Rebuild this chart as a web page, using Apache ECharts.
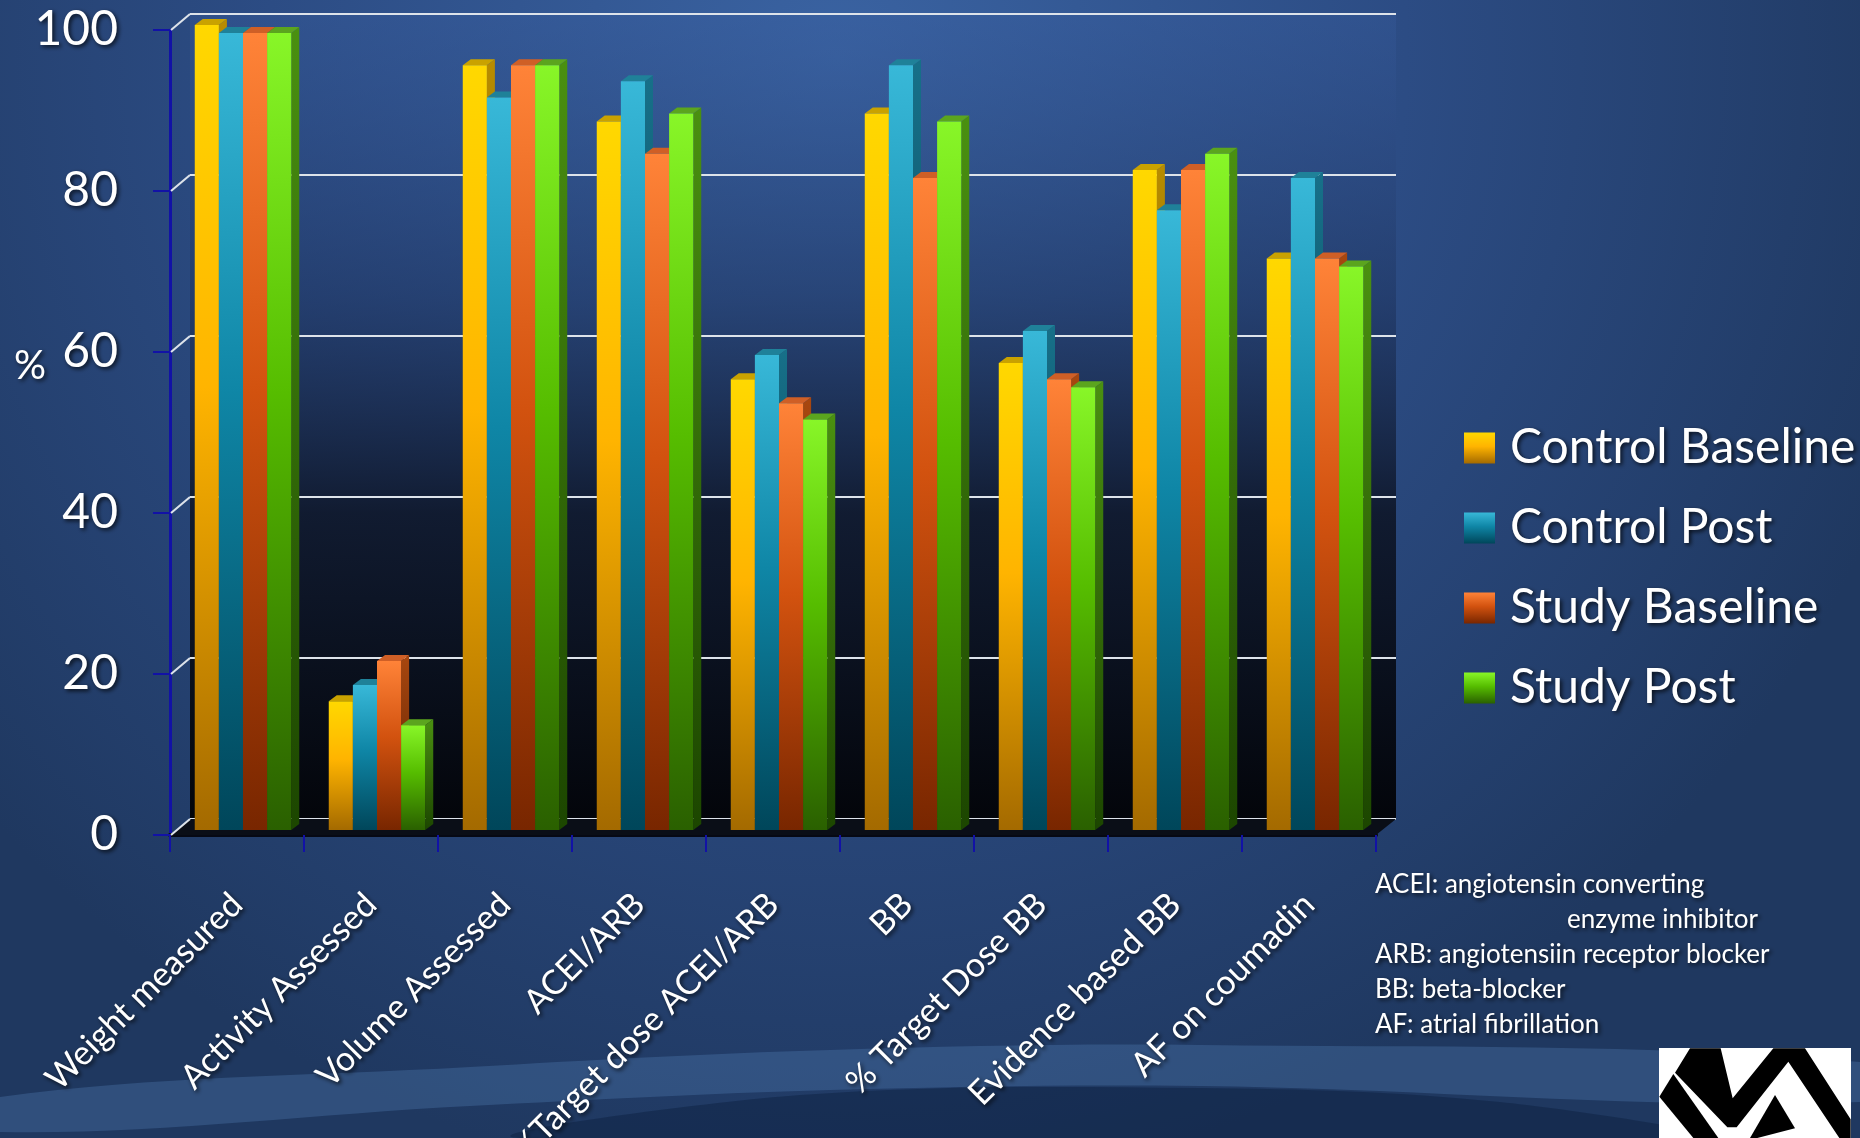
<!DOCTYPE html>
<html>
<head>
<meta charset="utf-8">
<title>Heart failure care measures</title>
<script src="https://cdn.jsdelivr.net/npm/echarts@6/dist/echarts.min.js"></script>
<style>
  html, body { margin: 0; padding: 0; background: #24416b; }
  #main { width: 1860px; height: 1138px; }
</style>
</head>
<body>
<div id="main"></div>
<script>
// data
var categories = ['Weight measured', 'Activity Assessed', 'Volume Assessed', 'ACEI/ARB',
  '%Target dose ACEI/ARB', 'BB', '% Target Dose BB', 'Evidence based BB', 'AF on coumadin'];
var seriesNames = ['Control Baseline', 'Control Post', 'Study Baseline', 'Study Post'];
var controlBaseline = [100, 16, 95, 88, 56, 89, 58, 82, 71];
var controlPost     = [99, 18, 91, 93, 59, 95, 62, 77, 81];
var studyBaseline   = [99, 21, 95, 84, 53, 81, 56, 82, 71];
var studyPost       = [99, 13, 95, 89, 51, 88, 55, 84, 70];
var yTicks = [0, 20, 40, 60, 80, 100];
var notes = ['ACEI: angiotensin converting', 'enzyme inhibitor', 'ARB: angiotensiin receptor blocker',
  'BB: beta-blocker', 'AF: atrial fibrillation'];

var FONT = 'Lato, "Open Sans", sans-serif';
var GRID = { left: 170, top: 30, width: 1206, height: 805 };
var WALL = { dx: 20, dy: 16 };     // back wall offset
var DEPTH = { dx: 8, dy: 6 };      // bar depth
var LIFT = { dx: 6, dy: 5 };       // bars sit a bit behind the front plane
var BAR_RATIO = 0.18;

var LG = echarts.graphic.LinearGradient;
var palettes = [
  { front: ['#ffd800', '#ffb400', '#a46a00'], cap: '#c9a200', side: ['#b88c00', '#5e4000'] },
  { front: ['#38b8d8', '#0f86a6', '#00465a'], cap: '#1f8199', side: ['#177089', '#002f3d'] },
  { front: ['#ff8338', '#d2520f', '#782600'], cap: '#cf5f26', side: ['#a8470f', '#561c00'] },
  { front: ['#88f628', '#56bd00', '#2a6000'], cap: '#5ba51e', side: ['#4a9010', '#1c4600'] }
];
function frontGrad(p) {
  return new LG(0, 0, 0, 1, [
    { offset: 0, color: p.front[0] }, { offset: 0.45, color: p.front[1] }, { offset: 1, color: p.front[2] }
  ]);
}

function makeRender(si) {
  var p = palettes[si];
  var fg = frontGrad(p);
  var sg = new LG(0, 0, 0, 1, [{ offset: 0, color: p.side[0] }, { offset: 1, color: p.side[1] }]);
  return function (params, api) {
    var ci = api.value(0), v = api.value(1);
    var p0 = api.coord([ci, 0]);
    var p1 = api.coord([ci, v]);
    var band = api.size([1, 0])[0];
    var bw = band * BAR_RATIO;
    var x = p0[0] - 2 * bw + LIFT.dx + si * bw;
    var yb = p0[1] - LIFT.dy, yt = p1[1] - LIFT.dy;
    return {
      type: 'group',
      children: [
        { type: 'polygon', shape: { points: [[x + bw, yt], [x + bw + DEPTH.dx, yt - DEPTH.dy], [x + bw + DEPTH.dx, yb - DEPTH.dy], [x + bw, yb]] }, style: { fill: sg } },
        { type: 'polygon', shape: { points: [[x, yt], [x + bw, yt], [x + bw + DEPTH.dx, yt - DEPTH.dy], [x + DEPTH.dx, yt - DEPTH.dy]] }, style: { fill: p.cap } },
        { type: 'rect', shape: { x: x, y: yt, width: bw, height: yb - yt }, style: { fill: fg } }
      ]
    };
  };
}

var allValues = [controlBaseline, controlPost, studyBaseline, studyPost];
var series = allValues.map(function (vals, si) {
  return {
    name: seriesNames[si],
    type: 'custom',
    xAxisIndex: 0,
    yAxisIndex: 0,
    renderItem: makeRender(si),
    itemStyle: { color: frontGrad(palettes[si]) },
    encode: { x: 0, y: 1 },
    data: vals.map(function (v, i) { return [i, v]; })
  };
});

var shadow = { textShadowColor: 'rgba(0,0,0,0.75)', textShadowBlur: 4, textShadowOffsetX: 2, textShadowOffsetY: 2 };

var chart = echarts.init(document.getElementById('main'));
chart.setOption({
  animation: false,
  backgroundColor: new echarts.graphic.RadialGradient(0.45, 0.05, 1.0, [
    { offset: 0, color: '#3a63a2' }, { offset: 0.5, color: '#2c4c84' }, { offset: 1, color: '#1f3860' }
  ]),
  grid: [
    { left: GRID.left, top: GRID.top, width: GRID.width, height: GRID.height, outerBoundsMode: 'none' },
    {
      left: GRID.left + WALL.dx, top: GRID.top - WALL.dy, width: GRID.width, height: GRID.height,
      outerBoundsMode: 'none',
      show: true, borderWidth: 0,
      backgroundColor: new LG(0, 0, 0, 1, [
        { offset: 0, color: 'rgba(55,92,158,0.35)' }, { offset: 0.35, color: 'rgba(30,52,95,0.55)' },
        { offset: 0.62, color: 'rgba(14,22,40,0.9)' }, { offset: 1, color: 'rgba(3,5,10,1)' }
      ])
    }
  ],
  xAxis: [
    {
      type: 'category', gridIndex: 0, data: categories,
      axisLine: { lineStyle: { color: '#060914', width: 4 } },
      axisTick: { show: true, interval: 0, length: 17, lineStyle: { color: '#1212a6', width: 2 } },
      axisLabel: Object.assign({
        interval: 0, rotate: 45, margin: 64, color: '#ffffff', fontSize: 34, fontFamily: FONT
      }, shadow)
    },
    {
      type: 'category', gridIndex: 1, data: categories,
      axisLine: { show: false }, axisTick: { show: false }, axisLabel: { show: false }
    }
  ],
  yAxis: [
    {
      type: 'value', gridIndex: 0, min: 0, max: 100, interval: 20,
      axisLine: { show: true, lineStyle: { color: '#1212a6', width: 3 } },
      axisTick: { show: true, length: 17, lineStyle: { color: '#1212a6', width: 2 } },
      splitLine: { show: false },
      axisLabel: Object.assign({ margin: 52, color: '#ffffff', fontSize: 48, fontFamily: FONT }, shadow)
    },
    {
      type: 'value', gridIndex: 1, min: 0, max: 100, interval: 20,
      axisLine: { show: false }, axisTick: { show: false }, axisLabel: { show: false },
      splitLine: { show: true, lineStyle: { color: '#dde3ea', width: 2 } }
    }
  ],
  legend: {
    orient: 'vertical', left: 1459, top: 414, itemWidth: 31, itemHeight: 31, itemGap: 22,
    icon: 'rect', data: seriesNames,
    textStyle: Object.assign({ color: '#ffffff', fontSize: 48, lineHeight: 58, fontFamily: FONT, padding: [0, 0, 0, 10] }, shadow)
  },
  series: series
});

// decorations: floor, left wall lines, % label, notes, wave, logo
var gfx = [];
var fx0 = GRID.left, fx1 = GRID.left + GRID.width, fy = GRID.top + GRID.height;
gfx.push({
  type: 'polygon', z: -5, silent: true,
  shape: { smooth: 0.35, points: [[0, 1097], [470, 1067], [830, 1050], [1200, 1045], [1860, 1062],
    [1860, 1102], [1200, 1086], [830, 1090], [470, 1106], [0, 1132]] },
  style: { fill: 'rgba(95,145,205,0.26)' }
});
gfx.push({
  type: 'polygon', z: -5, silent: true,
  shape: { smooth: 0.35, points: [[520, 1138], [800, 1095], [1200, 1088], [1500, 1102], [1700, 1138]] },
  style: { fill: 'rgba(12,30,62,0.45)' }
});
gfx.push({
  type: 'polygon', z: 1, silent: true,
  shape: { points: [[fx0, fy], [fx1, fy], [fx1 + WALL.dx, fy - WALL.dy], [fx0 + WALL.dx, fy - WALL.dy]] },
  style: { fill: '#0a0e17' }
});
yTicks.forEach(function (t) {
  var y = chart.convertToPixel({ yAxisIndex: 0 }, t);
  gfx.push({
    type: 'line', silent: true, z: 1,
    shape: { x1: fx0 + 1, y1: y, x2: fx0 + WALL.dx, y2: y - WALL.dy },
    style: { stroke: '#dde3ea', lineWidth: 2 }
  });
});
gfx.push({
  type: 'text', left: 14, top: 346, z: 5,
  style: Object.assign({ text: '%', fill: '#ffffff', fontSize: 40, fontFamily: FONT }, shadow)
});
var noteX = [1375, 1567, 1375, 1375, 1375];
notes.forEach(function (s, i) {
  gfx.push({
    type: 'text', x: noteX[i], y: 885 + i * 35, z: 5,
    style: Object.assign({ text: s, fill: '#ffffff', fontSize: 26, fontFamily: FONT, verticalAlign: 'middle' }, shadow)
  });
});
// VA logo (bottom right, cut off by the slide edge)
function lp(pts) {
  return pts.map(function (p) { return [1640 + p[0] / 3, 1030 + p[1] / 3]; });
}
gfx.push({ type: 'rect', z: 5, shape: { x: 1659, y: 1048, width: 192, height: 90 }, style: { fill: '#ffffff' } });
gfx.push({ type: 'polygon', z: 6, shape: { points: lp([[58, 200], [100, 132], [235, 324], [160, 324]]) }, style: { fill: '#000' } });
gfx.push({
  type: 'polygon', z: 6,
  shape: { points: lp([[105, 128], [150, 55], [242, 55], [278, 205], [400, 55], [495, 55], [632, 268], [632, 324], [598, 324], [445, 95], [290, 292], [262, 292]]) },
  style: { fill: '#000' }
});
gfx.push({ type: 'polygon', z: 6, shape: { points: lp([[405, 195], [465, 295], [352, 324], [330, 324]]) }, style: { fill: '#000' } });

chart.setOption({ graphic: gfx });
</script>
</body>
</html>
